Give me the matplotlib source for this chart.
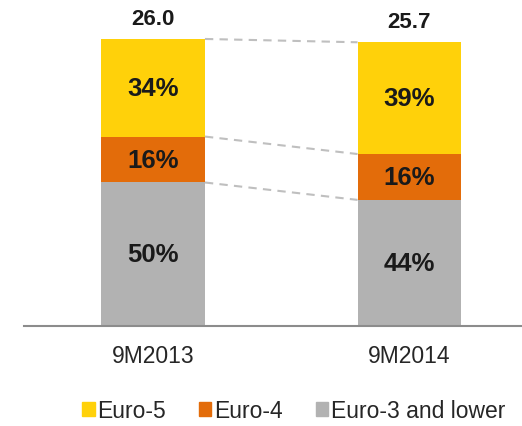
import matplotlib
matplotlib.use("Agg")
import matplotlib.pyplot as plt
from matplotlib.patches import Patch
import numpy as np

plt.rcParams["font.family"] = ["Liberation Sans", "DejaVu Sans"]

periods = ["9M2013", "9M2014"]
totals = [26.0, 25.7]
categories = ["Euro-3 and lower", "Euro-4", "Euro-5"]
shares = {
    "Euro-3 and lower": [50, 44],
    "Euro-4": [16, 16],
    "Euro-5": [34, 39],
}
colors = {
    "Euro-3 and lower": "#b2b2b2",
    "Euro-4": "#e36c0a",
    "Euro-5": "#ffd10a",
}
text_color = "#1a1a1a"


def main():
    W, H = 522, 427
    fig = plt.figure(figsize=(W / 100, H / 100), dpi=100)
    # axes in pixel terms: left 24, right 522, baseline at 327, top at 20
    ax = fig.add_axes([24 / W, (H - 327) / H, (522 - 24) / W, (327 - 20) / H])

    x = np.arange(len(periods))
    width = 0.405
    pct_sum = np.array([sum(shares[c][i] for c in categories) for i in range(len(periods))])

    bottom = np.zeros(len(periods))
    levels = []
    for cat in categories:
        vals = np.array(totals) * np.array(shares[cat]) / pct_sum
        ax.bar(x, vals, width, bottom=bottom, color=colors[cat], label=cat)
        for i in range(len(periods)):
            ax.text(x[i], bottom[i] + vals[i] / 2, f"{shares[cat][i]}%",
                    ha="center", va="center", fontsize=18.5, fontweight="bold",
                    color=text_color)
        bottom = bottom + vals
        levels.append(bottom.copy())

    # dashed connectors between the bars at each level
    for lv in levels:
        ax.plot([x[0] + width / 2, x[1] - width / 2], [lv[0], lv[1]],
                ls=(0, (4, 3)), color="#bfbfbf", lw=1.5)

    for i, t in enumerate(totals):
        ax.annotate(f"{t:.1f}", (x[i], t), xytext=(0, 15), textcoords="offset points",
                    ha="center", va="center", fontsize=16, fontweight="bold",
                    color=text_color)

    ax.set_xlim(-129 / 256.5, 369 / 256.5)
    ax.set_ylim(0, 307 / 11.04)
    ax.set_xticks(x, periods)
    ax.tick_params(axis="x", length=0, pad=13, labelsize=16.5, labelcolor="#262626")
    ax.set_yticks([])
    for s in ["top", "right", "left"]:
        ax.spines[s].set_visible(False)
    ax.spines["bottom"].set_color("#8c8c8c")
    ax.spines["bottom"].set_linewidth(1.5)

    handles = [Patch(color=colors[c]) for c in ["Euro-5", "Euro-4", "Euro-3 and lower"]]
    fig.legend(handles, ["Euro-5", "Euro-4", "Euro-3 and lower"],
               loc="center left", bbox_to_anchor=(82 / W, 1 - 412 / H),
               ncol=3, frameon=False, fontsize=16.5, borderpad=0, borderaxespad=0,
               handlelength=0.55, handleheight=0.55, handletextpad=0.1,
               columnspacing=1.45, labelcolor="#262626")

    fig.savefig("out.png", dpi=100)


if __name__ == "__main__":
    main()
